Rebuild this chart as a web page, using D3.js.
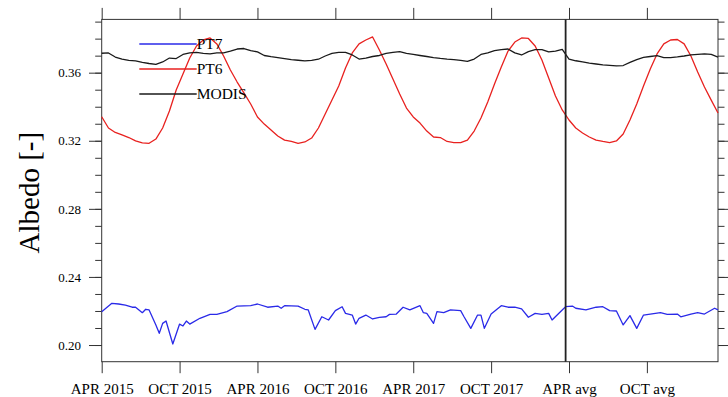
<!DOCTYPE html>
<html>
<head>
<meta charset="utf-8">
<script src="https://cdn.jsdelivr.net/npm/d3@7"></script>
<style>
  body { margin: 0; background: #fff; }
  svg { display: block; }
</style>
</head>
<body>
<div id="chart"></div>
<script>
// x axis is in 8-day steps: 3 years (APR 2015 .. MAR 2018) then an average year
const tickSteps = [0, 23, 46, 69, 92, 115, 138, 161];
const tickLabels = ["APR 2015", "OCT 2015", "APR 2016", "OCT 2016", "APR 2017", "OCT 2017", "APR avg", "OCT avg"];
const splitStep = 137;
const lastStep = 182;

// PT6 and MODIS are read every second step
const steps2 = [0, 2, 4, 6, 8, 10, 12, 14, 16, 18, 20, 22, 24, 26, 28, 30, 32, 34, 36, 38,
  40, 42, 44, 46, 48, 50, 52, 54, 56, 58, 60, 62, 64, 66, 68, 70, 72, 74, 76, 78,
  80, 82, 84, 86, 88, 90, 92, 94, 96, 98, 100, 102, 104, 106, 108, 110, 112, 114, 116, 118,
  120, 122, 124, 126, 128, 130, 132, 134, 136, 138, 140, 142, 144, 146, 148, 150, 152, 154, 156, 158,
  160, 162, 164, 166, 168, 170, 172, 174, 176, 178, 180, 182];

const pt6 = [0.3341, 0.3275, 0.3249, 0.3234, 0.3219, 0.3199, 0.3187, 0.3185, 0.3210, 0.3275,
  0.3375, 0.3498, 0.3592, 0.3686, 0.3757, 0.3792, 0.3804, 0.3769, 0.3698, 0.3616,
  0.3545, 0.3481, 0.3416, 0.3340, 0.3298, 0.3263, 0.3228, 0.3204, 0.3196, 0.3185,
  0.3193, 0.3216, 0.3275, 0.3357, 0.3439, 0.3522, 0.3627, 0.3716, 0.3769, 0.3792,
  0.3810, 0.3733, 0.3651, 0.3563, 0.3475, 0.3392, 0.3340, 0.3304, 0.3257, 0.3222,
  0.3219, 0.3196, 0.3189, 0.3189, 0.3204, 0.3257, 0.3334, 0.3428, 0.3533, 0.3633,
  0.3727, 0.3780, 0.3804, 0.3801, 0.3757, 0.3674, 0.3569, 0.3463, 0.3381, 0.3322,
  0.3275, 0.3246, 0.3222, 0.3204, 0.3196, 0.3189, 0.3199, 0.3240, 0.3322, 0.3416,
  0.3522, 0.3622, 0.3710, 0.3769, 0.3792, 0.3795, 0.3769, 0.3698, 0.3604, 0.3516,
  0.3439, 0.3363];

const modis = [0.3714, 0.3716, 0.3692, 0.3680, 0.3672, 0.3669, 0.3660, 0.3654, 0.3649, 0.3663,
  0.3686, 0.3683, 0.3707, 0.3716, 0.3719, 0.3714, 0.3710, 0.3716, 0.3716, 0.3727,
  0.3739, 0.3742, 0.3730, 0.3722, 0.3701, 0.3694, 0.3689, 0.3683, 0.3677, 0.3673,
  0.3669, 0.3672, 0.3679, 0.3698, 0.3713, 0.3719, 0.3719, 0.3704, 0.3680, 0.3686,
  0.3695, 0.3701, 0.3713, 0.3719, 0.3724, 0.3713, 0.3707, 0.3701, 0.3695, 0.3689,
  0.3684, 0.3680, 0.3677, 0.3672, 0.3666, 0.3680, 0.3707, 0.3716, 0.3730, 0.3736,
  0.3739, 0.3716, 0.3704, 0.3724, 0.3736, 0.3736, 0.3722, 0.3727, 0.3737, 0.3680,
  0.3670, 0.3663, 0.3656, 0.3651, 0.3646, 0.3643, 0.3640, 0.3642, 0.3660, 0.3677,
  0.3690, 0.3695, 0.3700, 0.3689, 0.3689, 0.3693, 0.3698, 0.3704, 0.3707, 0.3710,
  0.3707, 0.3692];

// PT7 has narrow dips, so it keeps its own steps
const pt7Steps = [0, 3, 5, 7, 9, 10, 12, 13, 14, 16, 17, 18, 19, 21, 23, 24, 25, 26, 29, 32,
  34, 37, 40, 44, 46, 49, 52, 53, 54, 58, 60, 61, 63, 65, 67, 69, 71, 72, 74, 75,
  76, 78, 80, 82, 84, 85, 87, 89, 91, 94, 95, 96, 98, 99, 101, 103, 106, 107, 109, 111,
  112, 113, 115, 118, 120, 122, 124, 126, 128, 130, 132, 133, 136, 137, 139, 140, 143, 146, 148, 150,
  152, 154, 156, 158, 160, 162, 165, 167, 170, 171, 174, 176, 178, 181, 182];
const pt7 = [0.2196, 0.2245, 0.2241, 0.2235, 0.2222, 0.2222, 0.2190, 0.2210, 0.2206, 0.2118,
  0.2069, 0.2127, 0.2141, 0.2006, 0.2123, 0.2112, 0.2141, 0.2123, 0.2157, 0.2180,
  0.2180, 0.2196, 0.2229, 0.2231, 0.2241, 0.2222, 0.2229, 0.2216, 0.2231, 0.2229,
  0.2210, 0.2206, 0.2092, 0.2166, 0.2147, 0.2202, 0.2225, 0.2186, 0.2176, 0.2123,
  0.2157, 0.2176, 0.2153, 0.2163, 0.2166, 0.2180, 0.2182, 0.2222, 0.2206, 0.2231,
  0.2190, 0.2186, 0.2127, 0.2196, 0.2190, 0.2206, 0.2202, 0.2166, 0.2098, 0.2176,
  0.2176, 0.2098, 0.2182, 0.2231, 0.2222, 0.2222, 0.2212, 0.2163, 0.2186, 0.2180,
  0.2186, 0.2147, 0.2206, 0.2225, 0.2229, 0.2216, 0.2206, 0.2222, 0.2225, 0.2202,
  0.2200, 0.2118, 0.2173, 0.2098, 0.2176, 0.2182, 0.2190, 0.2180, 0.2182, 0.2166,
  0.2182, 0.2190, 0.2182, 0.2216, 0.2206];

const yMajor = [0.20, 0.24, 0.28, 0.32, 0.36];
const yMinor = [0.19, 0.20, 0.21, 0.22, 0.23, 0.24, 0.25, 0.26, 0.27, 0.28, 0.29, 0.30,
  0.31, 0.32, 0.33, 0.34, 0.35, 0.36, 0.37, 0.38, 0.39];
const yMin = 0.1902, yMax = 0.3913;

const legendNames = ["PT7", "PT6", "MODIS"];
const colors = { PT7: "#2a2ae8", PT6: "#e8211f", MODIS: "#1a1a1a" };

const serif = "'Liberation Serif', 'Times New Roman', Times, serif";

const width = 728, height = 397;
const margin = { top: 19.4, right: 10, bottom: 35.3, left: 101.7 };
const innerW = width - margin.left - margin.right;
const innerH = height - margin.top - margin.bottom;

const svg = d3.select("#chart").append("svg")
  .attr("width", width)
  .attr("height", height)
  .attr("font-family", serif);

const g = svg.append("g")
  .attr("transform", "translate(" + margin.left + "," + margin.top + ")");

const x = d3.scaleLinear().domain([0, lastStep]).range([0, innerW]);
const y = d3.scaleLinear().domain([yMin, yMax]).range([innerH, 0]);

const axisColor = "#333";

function styleAxis(sel) {
  sel.attr("font-family", serif);
  sel.select(".domain").remove();
  sel.selectAll(".tick line").attr("stroke", axisColor).attr("stroke-width", 1);
  sel.selectAll(".tick text").attr("fill", "#000");
}

const minorTicks = yMinor.filter(v => v >= yMin && v <= yMax);

// y axes (left with labels, right without)
g.append("g")
  .call(d3.axisLeft(y).tickValues(minorTicks).tickSize(6.5).tickFormat(""))
  .call(styleAxis);
g.append("g")
  .call(d3.axisLeft(y).tickValues(yMajor).tickSize(12.7).tickPadding(8).tickFormat(d3.format(".2f")))
  .call(styleAxis)
  .attr("font-size", 13);
g.append("g")
  .attr("transform", "translate(" + innerW + ",0)")
  .call(d3.axisRight(y).tickValues(minorTicks).tickSize(6.5).tickFormat(""))
  .call(styleAxis);
g.append("g")
  .attr("transform", "translate(" + innerW + ",0)")
  .call(d3.axisRight(y).tickValues(yMajor).tickSize(12.7).tickFormat(""))
  .call(styleAxis);

// x axes (bottom with labels, top without)
g.append("g")
  .attr("transform", "translate(0," + innerH + ")")
  .call(d3.axisBottom(x).tickValues(tickSteps).tickSize(11.5).tickPadding(10)
    .tickFormat((d, i) => tickLabels[i]))
  .call(styleAxis)
  .attr("font-size", 15);
g.append("g")
  .call(d3.axisTop(x).tickValues(tickSteps).tickSize(11.5).tickFormat(""))
  .call(styleAxis);

// frame
g.append("rect")
  .attr("width", innerW)
  .attr("height", innerH)
  .attr("fill", "none")
  .attr("stroke", axisColor)
  .attr("stroke-width", 1);

// y title
svg.append("text")
  .attr("transform", "translate(39," + (margin.top + y(0.2895)) + ") rotate(-90)")
  .attr("text-anchor", "middle")
  .attr("font-family", serif)
  .attr("font-size", 29)
  .text("Albedo [-]");

const line = d3.line()
  .x(d => x(d[0]))
  .y(d => y(d[1]));

const series = [
  { name: "PT7", pts: pt7Steps.map((s, i) => [s, pt7[i]]) },
  { name: "PT6", pts: steps2.map((s, i) => [s, pt6[i]]) },
  { name: "MODIS", pts: steps2.map((s, i) => [s, modis[i]]) }
];

g.selectAll(".series")
  .data(series)
  .enter()
  .append("path")
  .attr("class", "series")
  .attr("d", d => line(d.pts))
  .attr("fill", "none")
  .attr("stroke", d => colors[d.name])
  .attr("stroke-width", 1.3)
  .attr("stroke-linejoin", "round");

// separator between the 3 years and the averaged year
g.append("line")
  .attr("x1", x(splitStep))
  .attr("x2", x(splitStep))
  .attr("y1", 0)
  .attr("y2", innerH)
  .attr("stroke", "#222")
  .attr("stroke-width", 1.8);

// legend
const legend = g.append("g").attr("transform", "translate(37.6,24.6)");
const items = legend.selectAll(".item")
  .data(legendNames)
  .enter()
  .append("g")
  .attr("transform", (d, i) => "translate(0," + i * 25 + ")");
items.append("line")
  .attr("x1", 0)
  .attr("x2", 57.4)
  .attr("stroke", d => colors[d])
  .attr("stroke-width", 1.3);
items.append("text")
  .attr("x", 57.4)
  .attr("dy", "0.33em")
  .attr("font-family", serif)
  .attr("font-size", 15.5)
  .text(d => d);
</script>
</body>
</html>
